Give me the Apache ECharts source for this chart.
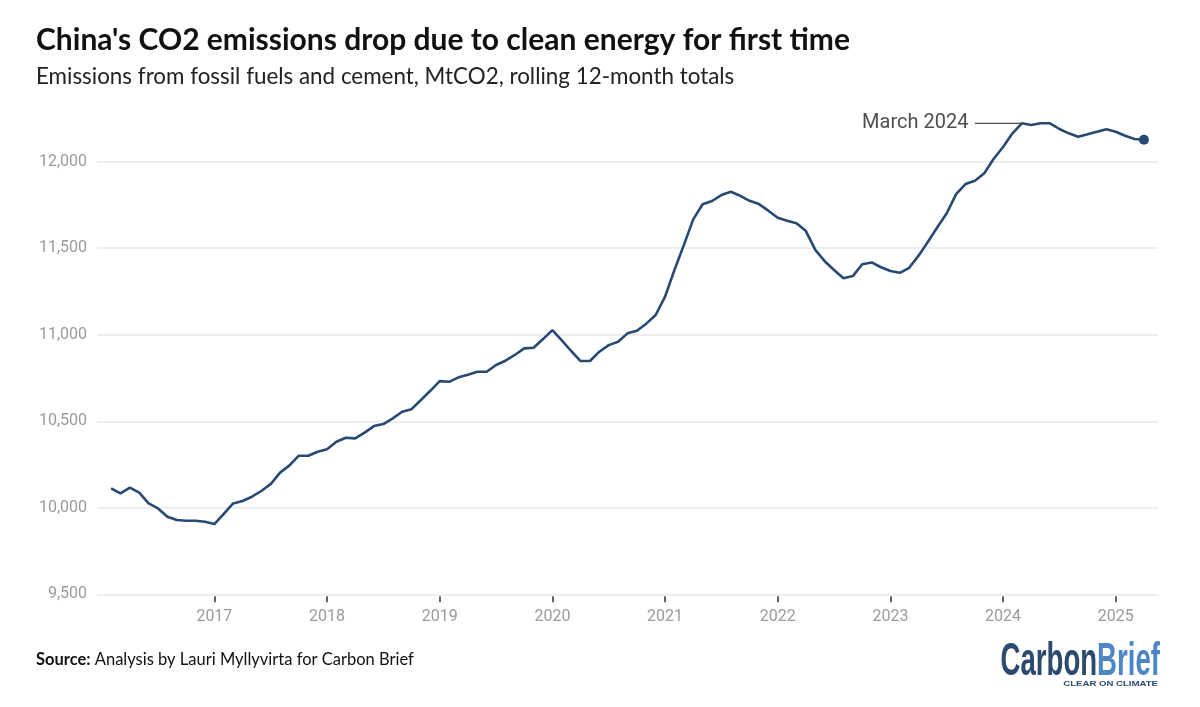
<!DOCTYPE html>
<html>
<head>
<meta charset="utf-8">
<title>China's CO2 emissions</title>
<script src="https://cdn.jsdelivr.net/npm/echarts@6/dist/echarts.min.js"></script>
<style>
  html, body { margin: 0; padding: 0; background: #fff; }
  #chart { width: 1200px; height: 707px; }
</style>
</head>
<body>
<div id="chart"></div>
<script>
// Rolling 12-month CO2 totals (MtCO2), monthly from Feb 2016 to Apr 2025
const firstMonth = [2016, 2];
const emissions = [
  10112, 10083, 10116, 10087, 10025, 9996, 9948, 9929, 9925, 9925, 9919,
  9906, 9965, 10025, 10039, 10064, 10097, 10137, 10203, 10245, 10301, 10301, 10324,
  10338, 10382, 10405, 10401, 10434, 10472, 10484, 10517, 10555, 10570, 10623, 10676,
  10732, 10728, 10754, 10769, 10786, 10786, 10825, 10850, 10883, 10921, 10925, 10975,
  11027, 10968, 10906, 10848, 10848, 10902, 10940, 10959, 11008, 11023, 11064, 11114,
  11220, 11374, 11518, 11667, 11754, 11773, 11807, 11826, 11803, 11774, 11755, 11717,
  11676, 11659, 11644, 11599, 11490, 11425, 11374, 11326, 11339, 11407, 11418, 11390,
  11368, 11358, 11387, 11457, 11537, 11621, 11702, 11813, 11871, 11890, 11933, 12017,
  12085, 12164, 12222, 12212, 12222, 12222, 12189, 12164, 12144, 12158, 12173, 12187,
  12173, 12150, 12131, 12127
];
const yTicks = [9500, 10000, 10500, 11000, 11500, 12000];
const firstLabelYear = 2017;
const annotMonth = '2024-03';
const annotText = 'March 2024';
const annotLineFrom = '2023-10';

function monthKey(y, m) {
  return y + '-' + String(m).padStart(2, '0');
}
function shiftMonth(key, n) {
  const y = +key.slice(0, 4), m = +key.slice(5, 7) - 1 + n;
  return monthKey(y + Math.floor(m / 12), ((m % 12) + 12) % 12 + 1);
}

const months = emissions.map((_, i) => shiftMonth(monthKey(firstMonth[0], firstMonth[1]), i));
// one empty month each side keeps the line inset from the gridline ends
const axisMonths = [shiftMonth(months[0], -1), ...months, shiftMonth(months[months.length - 1], 1)];
const seriesData = months.map((m, i) => [m, emissions[i]]);
const lastPoint = seriesData[seriesData.length - 1];
const annotValue = emissions[months.indexOf(annotMonth)];

const isYearStart = (idx, val) => val.endsWith('-01') && +val.slice(0, 4) >= firstLabelYear;

const navy = '#274a74';
const axisGray = '#9b9b9b';

const chart = echarts.init(document.getElementById('chart'), null, { renderer: 'canvas' });
chart.setOption({
  animation: false,
  backgroundColor: '#fff',
  grid: { left: 97, right: 42, top: 161.7, bottom: 112.7 },
  xAxis: {
    type: 'category',
    data: axisMonths,
    boundaryGap: true,
    offset: 2,
    axisLine: { show: false },
    axisTick: {
      show: true,
      alignWithLabel: true,
      interval: isYearStart,
      length: 6,
      lineStyle: { color: '#333', width: 1.5 }
    },
    axisLabel: {
      interval: isYearStart,
      formatter: (v) => v.slice(0, 4),
      margin: 13,
      color: axisGray,
      fontFamily: 'Roboto',
      fontSize: 16
    },
    splitLine: { show: false }
  },
  yAxis: {
    type: 'value',
    min: yTicks[0],
    max: yTicks[yTicks.length - 1],
    interval: yTicks[1] - yTicks[0],
    axisLine: { show: false },
    axisTick: { show: false },
    axisLabel: {
      margin: 10,
      color: axisGray,
      fontFamily: 'Roboto',
      fontSize: 16,
      formatter: (v) => v.toLocaleString('en-US')
    },
    splitLine: { lineStyle: { color: '#e8e8e8', width: 1.5 } }
  },
  series: [
    {
      // leader line for the annotation (drawn above the axis max, so no markLine)
      type: 'line',
      data: [[annotLineFrom, annotValue], [annotMonth, annotValue]],
      symbol: 'none',
      clip: false,
      silent: true,
      z: 1,
      lineStyle: { color: '#222', width: 1 }
    },
    {
      type: 'scatter',
      data: [[annotLineFrom, annotValue]],
      symbolSize: 1,
      clip: false,
      silent: true,
      itemStyle: { color: 'rgba(0,0,0,0)' },
      label: {
        show: true,
        position: 'left',
        distance: 6,
        formatter: annotText,
        color: '#222',
        fontFamily: 'Roboto',
        fontSize: 20
      }
    },
    {
      type: 'line',
      data: seriesData,
      symbol: 'none',
      clip: false,
      z: 3,
      lineStyle: { color: navy, width: 2.6 }
    },
    {
      type: 'scatter',
      data: [lastPoint],
      symbolSize: 10,
      clip: false,
      z: 4,
      itemStyle: { color: navy, opacity: 1 }
    }
  ],
  graphic: [
    {
      type: 'text', x: 36, y: 40,
      style: {
        text: "China's CO2 emissions drop due to clean energy for first time",
        font: 'bold 30px Lato', fill: '#111', align: 'left', verticalAlign: 'middle'
      }
    },
    {
      type: 'text', x: 36, y: 77,
      style: {
        text: 'Emissions from fossil fuels and cement, MtCO2, rolling 12-month totals',
        font: '22.4px Lato', fill: '#222', align: 'left', verticalAlign: 'middle'
      }
    },
    {
      type: 'text', x: 36, y: 660,
      style: {
        text: '{b|Source:} Analysis by Lauri Myllyvirta for Carbon Brief',
        font: '16.5px Lato', fill: '#111', align: 'left', verticalAlign: 'middle',
        rich: { b: { fontFamily: 'Lato', fontWeight: 'bold', fontSize: 16.5, fill: '#111' } }
      }
    },
    {
      type: 'text', x: 1160, y: 662, scaleX: 0.6,
      style: {
        text: '{c|Carbon}{b|Brief}',
        align: 'right', verticalAlign: 'middle',
        font: 'bold 46px "Liberation Sans"',
        rich: {
          c: { fontFamily: 'Liberation Sans', fontWeight: 'bold', fontSize: 46, fill: '#2c4a6e' },
          b: { fontFamily: 'Liberation Sans', fontWeight: 'bold', fontSize: 46, fill: '#4d86c4' }
        }
      }
    },
    {
      type: 'text', x: 1158, y: 684, scaleX: 1.2,
      style: {
        text: 'CLEAR ON CLIMATE',
        font: 'bold 8px "Liberation Sans"', fill: '#2c4a6e',
        align: 'right', verticalAlign: 'middle'
      }
    }
  ]
});
</script>
</body>
</html>
